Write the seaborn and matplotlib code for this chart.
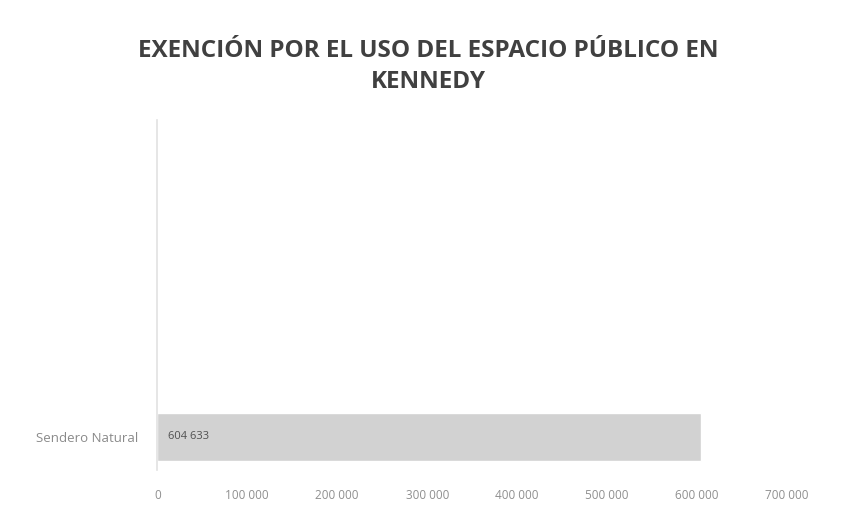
import matplotlib
matplotlib.use('Agg')
import matplotlib.pyplot as plt
import seaborn as sns
import pandas as pd
from matplotlib.ticker import FuncFormatter

# data
categories = ['Sendero Natural']
values = [604633]
bar_labels = ['604 633']

TITLE = 'EXENCIÓN POR EL USO DEL ESPACIO PÚBLICO EN\nKENNEDY'

sns.set_theme(style='white')
plt.rcParams['font.family'] = ['Open Sans', 'DejaVu Sans']

df = pd.DataFrame({'lugar': categories, 'valor': values})

fig = plt.figure(figsize=(8.41, 5.14), dpi=100)
ax = fig.add_axes([0.187, 0.086, 0.749, 0.680])

sns.barplot(data=df, x='valor', y='lugar', color='#d2d2d2', saturation=1,
            width=0.62, ax=ax)

# bar value labels, inside the bar near the base
for p, txt in zip(ax.patches, bar_labels):
  ax.text(p.get_x() + 12000, p.get_y() + p.get_height() / 2, txt,
          va='center', ha='left', fontsize=8, color='#505050')

ax.set_xlim(0, 700000)
ax.set_ylim(0.42, -4.05)
ax.set_xticks(range(0, 700001, 100000))
ax.xaxis.set_major_formatter(FuncFormatter(lambda v, _: f'{int(v):,}'.replace(',', ' ')))
ax.tick_params(axis='x', length=0, labelsize=8.5, colors='#8f8f8f', pad=14)
ax.tick_params(axis='y', length=0, labelsize=9.5, colors='#8a8a8a', pad=14)
ax.set_xlabel('')
ax.set_ylabel('')

for side in ['top', 'right', 'bottom']:
  ax.spines[side].set_visible(False)
ax.spines['left'].set_color('#e2e2e2')
ax.spines['left'].set_linewidth(1.2)

fig.text(0.509, 0.876 - 0.006, TITLE, ha='center', va='center', fontsize=17.5,
         fontweight='bold', color='#404040', linespacing=1.4)

fig.savefig('out.png', dpi=100)
